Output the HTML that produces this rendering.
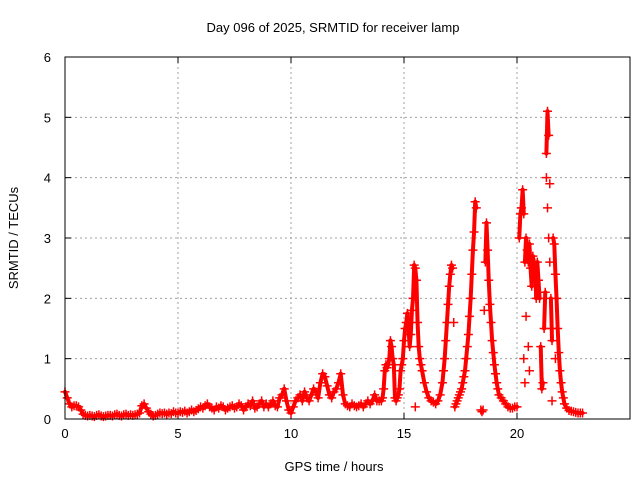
<!DOCTYPE html>
<html><head><meta charset="utf-8"><style>
body{margin:0;background:#fff}
svg text{font-family:"Liberation Sans",sans-serif;font-size:13px;fill:#000}
</style></head><body>
<svg id="chart" width="640" height="480">
<rect width="640" height="480" fill="#fff"/>
<text x="333" y="32" text-anchor="middle">Day 096 of 2025, SRMTID for receiver lamp</text>
<text x="18" y="238" text-anchor="middle" transform="rotate(-90 18 238)">SRMTID / TECUs</text>
<text x="334" y="471" text-anchor="middle">GPS time / hours</text>
<g id="grid"></g><g id="ticks"></g><g id="lines"></g><g id="points"></g>
<rect x="65" y="57" width="565" height="362" fill="none" stroke="#000" stroke-width="1"/>
</svg>
<script>
const xTicks=[0,5,10,15,20,25];
const xTickLabels=["0","5","10","15","20",""];
const yTicks=[0,1,2,3,4,5,6];
const yTickLabels=["0","1","2","3","4","5","6"];
const times=[
0,0.1,0.2,0.3,0.4,0.5,0.6,0.7,0.8,0.9,
1,1.1,1.2,1.3,1.4,1.5,1.6,1.7,1.8,1.9,
2,2.1,2.2,2.3,2.4,2.5,2.6,2.7,2.8,2.9,
3,3.1,3.2,3.3,3.4,3.5,3.6,3.7,3.8,3.9,
4,4.1,4.2,4.3,4.4,4.5,4.6,4.7,4.8,4.9,
5,5.1,5.2,5.3,5.4,5.5,5.6,5.7,5.8,5.9,
6,6.1,6.2,6.3,6.4,6.5,6.6,6.7,6.8,6.9,
7,7.1,7.2,7.3,7.4,7.5,7.6,7.7,7.8,7.9,
8,8.1,8.2,8.3,8.4,8.5,8.6,8.7,8.8,8.9,
9,9.1,9.2,9.3,9.4,9.5,9.6,9.7,9.8,9.9,
10,10.1,10.2,10.3,10.4,10.5,10.6,10.7,10.8,10.9,
11,11.1,11.2,11.3,11.4,11.5,11.6,11.7,11.8,11.9,
12,12.1,12.2,12.3,12.4,12.5,12.6,12.7,12.8,12.9,
13,13.1,13.2,13.3,13.4,13.5,13.6,13.7,13.8,13.9,
14,14.05,14.1,14.15,14.2,14.25,14.3,14.35,14.4,14.45,
14.5,14.55,14.6,14.65,14.7,14.75,14.8,14.85,14.9,14.95,
15,15.05,15.1,15.15,15.2,15.25,15.3,15.35,15.4,15.45,
15.5,15.55,15.6,15.65,15.7,15.75,15.8,15.9,16,16.1,
16.2,16.3,16.4,16.5,16.6,16.7,16.75,16.8,16.85,16.9,
16.95,17,17.05,17.1,17.15,17.2,17.25,17.3,17.35,17.4,
17.45,17.5,17.55,17.6,17.65,17.7,17.75,17.8,17.85,17.9,
17.95,18,18.05,18.1,18.15,18.2,18.55,18.6,18.65,18.7,
18.75,18.8,18.85,18.9,18.95,19,19.05,19.1,19.15,19.2,
19.3,19.4,19.5,19.6,19.7,19.8,19.9,20,20.1,20.15,
20.2,20.25,20.3,20.35,20.4,20.45,20.5,20.55,20.6,20.65,
20.7,20.75,20.8,20.85,20.9,20.95,21,21.05,21.1,21.15,
21.2,21.25,21.3,21.35,21.4,21.45,21.5,21.55,21.6,21.65,
21.7,21.75,21.8,21.85,21.9,21.95,22,22.05,22.1,22.2,
22.3,22.4,22.5,22.6,22.7,22.8,22.9];
const values=[
0.45,0.35,0.25,0.2,0.22,0.22,0.2,0.15,0.08,0.06,
0.05,0.06,0.05,0.04,0.06,0.07,0.05,0.04,0.05,0.06,
0.06,0.05,0.07,0.08,0.06,0.05,0.07,0.08,0.06,0.07,
0.06,0.07,0.08,0.1,0.22,0.25,0.18,0.12,0.08,0.05,
0.06,0.08,0.1,0.09,0.1,0.08,0.1,0.09,0.12,0.1,
0.1,0.12,0.11,0.13,0.1,0.12,0.15,0.12,0.14,0.17,
0.2,0.18,0.22,0.25,0.2,0.18,0.15,0.2,0.18,0.22,
0.2,0.15,0.18,0.2,0.22,0.18,0.2,0.25,0.22,0.15,
0.2,0.25,0.22,0.3,0.18,0.2,0.25,0.3,0.2,0.25,
0.2,0.25,0.3,0.22,0.2,0.35,0.4,0.5,0.3,0.15,
0.1,0.2,0.3,0.35,0.4,0.3,0.45,0.35,0.3,0.4,
0.5,0.45,0.35,0.6,0.75,0.7,0.55,0.4,0.35,0.45,
0.5,0.6,0.75,0.4,0.25,0.22,0.2,0.25,0.22,0.2,
0.22,0.25,0.2,0.25,0.3,0.25,0.3,0.4,0.3,0.3,
0.3,0.35,0.5,0.8,0.9,0.85,0.9,1.0,1.3,1.2,
1.0,0.9,0.35,0.3,0.35,0.4,0.5,0.8,0.9,1.0,
1.3,1.5,1.6,1.75,1.5,1.2,1.4,1.8,2.0,2.55,
2.5,2.3,1.6,1.2,1.0,0.9,0.8,0.6,0.45,0.35,
0.3,0.28,0.25,0.3,0.4,0.6,0.8,1.0,1.3,1.6,
1.9,2.2,2.4,2.55,2.5,1.6,0.2,0.25,0.3,0.35,
0.4,0.45,0.5,0.6,0.7,0.8,1.0,1.2,1.4,1.7,
2.0,2.4,2.8,3.1,3.6,3.5,1.8,2.6,3.25,2.8,
2.3,1.9,1.6,1.3,1.1,0.9,0.75,0.6,0.5,0.4,
0.35,0.3,0.25,0.2,0.18,0.18,0.2,0.2,3.0,3.4,
3.5,3.8,3.4,2.6,3.0,2.8,2.6,2.9,2.5,2.2,
2.7,2.6,2.5,2.0,2.6,2.3,2.0,1.2,0.5,0.6,
1.5,2.1,4.4,5.1,4.7,3.9,2.0,1.3,3.0,2.9,
2.4,2.0,1.5,1.1,0.8,0.6,0.45,0.35,0.25,0.18,
0.14,0.13,0.12,0.11,0.1,0.1,0.1];
const outlierTimes=[15.5,18.4,18.45,18.5,20.3,20.35,20.4,20.5,20.55,21.3,21.35,21.4,21.45,21.5,21.55,21.7];
const outlierValues=[0.2,0.15,0.12,0.15,1.0,0.6,1.7,1.2,0.8,4.0,3.5,3.0,2.6,1.5,0.3,1.0];
const X=t=>65+t*(565/25);
const Y=v=>419-v*(362/6);
const NS="http://www.w3.org/2000/svg";
const grid=document.getElementById('grid'),ticks=document.getElementById('ticks'),pts=document.getElementById('points'),lines=document.getElementById('lines');
function mk(tag,attrs,parent){const e=document.createElementNS(NS,tag);for(const k in attrs)e.setAttribute(k,attrs[k]);parent.appendChild(e);return e;}
xTicks.forEach((t,i)=>{
  const x=X(t);
  if(t>0&&t<25){const g=mk('line',{x1:x,y1:57,x2:x,y2:419,stroke:'#a0a0a0','stroke-dasharray':'2,3'},grid);
  
  }
  mk('line',{x1:x,y1:419,x2:x,y2:413,stroke:'#000'},ticks);
  mk('line',{x1:x,y1:57,x2:x,y2:63,stroke:'#000'},ticks);
  const l=mk('text',{x:x,y:438,'text-anchor':'middle'},ticks);l.textContent=xTickLabels[i];
  
  
});
yTicks.forEach((v,i)=>{
  const y=Y(v);
  if(v>0&&v<6){const g=mk('line',{x1:65,y1:y,x2:630,y2:y,stroke:'#a0a0a0','stroke-dasharray':'2,3'},grid);
  
  }
  mk('line',{x1:65,y1:y,x2:71,y2:y,stroke:'#000'},ticks);
  mk('line',{x1:630,y1:y,x2:624,y2:y,stroke:'#000'},ticks);
  const l=mk('text',{x:51,y:y+5,'text-anchor':'end'},ticks);l.textContent=yTickLabels[i];
  
  
});
for(let i=1;i<times.length;i++){
  const dt=times[i]-times[i-1],dv=Math.abs(values[i]-values[i-1]);
  if(dt>0&&dt<=0.11&&dv<=0.7){
    const s=mk('line',{x1:X(times[i-1]),y1:Y(values[i-1]),x2:X(times[i]),y2:Y(values[i]),stroke:'#ff0000','stroke-width':'4','stroke-linecap':'round'},lines);
    
    
  }
}
function plus(t,v){
  const x=X(t),y=Y(v);
  const p=mk('path',{d:`M${x-4.5},${y}h9M${x},${y-4.5}v9`,stroke:'#ff0000','stroke-width':'1.5',fill:'none'},pts);
  
  
}
times.forEach((t,i)=>plus(t,values[i]));
outlierTimes.forEach((t,i)=>plus(t,outlierValues[i]));
</script>
</body></html>
